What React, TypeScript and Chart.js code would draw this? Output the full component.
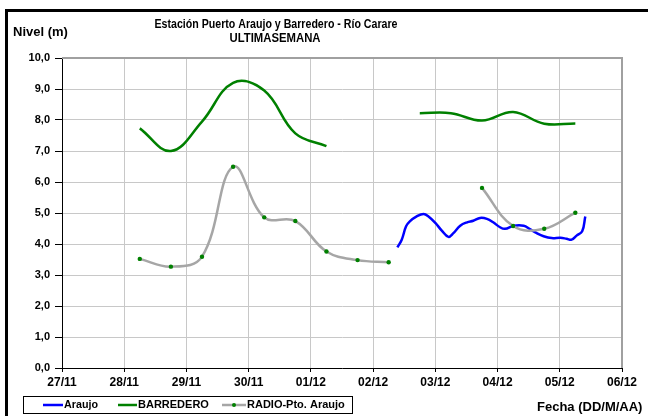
import React, { useEffect, useRef } from "react";
import { Chart, registerables } from "chart.js";

Chart.register(...registerables);

const titleLines = ["Estación Puerto Araujo y Barredero - Río Carare", "ULTIMASEMANA"];
const yAxisTitle = "Nivel (m)";
const xAxisTitle = "Fecha (DD/M/AA)";
const dateLabels = ["27/11", "28/11", "29/11", "30/11", "01/12", "02/12", "03/12", "04/12", "05/12", "06/12"];

// days since 27/11
const halfDays = [1.25, 1.75, 2.25, 2.75, 3.25, 3.75, 4.25, 4.75, 5.25, 5.75, 6.25, 6.75, 7.25, 7.75, 8.25];
const barrederoLevels = [7.73, 7.0, 7.95, 9.2, 8.95, 7.57, 7.16, null, null, 8.22, 8.22, 7.98, 8.26, 7.88, 7.89];
const radioLevels = [3.52, 3.27, 3.59, 6.49, 4.86, 4.74, 3.76, 3.48, 3.41, null, null, 5.81, 4.58, 4.49, 5.01];

const araujoDays = [5.39, 5.46, 5.53, 5.59, 5.70, 5.81, 5.89, 6.0, 6.10, 6.21, 6.29, 6.40, 6.51, 6.61, 6.72, 6.83, 6.93, 7.04, 7.12, 7.26, 7.42, 7.52, 7.63, 7.74, 7.87, 8.01, 8.11, 8.19, 8.27, 8.36, 8.41];
const araujoLevels = [3.89, 4.14, 4.57, 4.73, 4.89, 4.97, 4.89, 4.68, 4.44, 4.23, 4.35, 4.59, 4.70, 4.75, 4.84, 4.81, 4.70, 4.54, 4.49, 4.59, 4.59, 4.48, 4.35, 4.25, 4.19, 4.20, 4.17, 4.14, 4.27, 4.41, 4.89];

const legendNames = ["Araujo", "BARREDERO", "RADIO-Pto. Araujo"];

const FONT = '"Liberation Sans", Arial, sans-serif';
const BLUE = "#0000ff";
const GREEN = "#008000";
const GRAY = "#a6a6a6";

const pts = (xs: number[], ys: (number | null)[]) => xs.map((x, i) => ({ x, y: ys[i] }));

const decorPlugin = {
  id: "decor",
  beforeDraw(chart: any) {
    const ctx = chart.ctx;
    ctx.save();
    ctx.fillStyle = "#ffffff";
    ctx.fillRect(0, 0, chart.width, chart.height);
    ctx.restore();
  },
  afterDraw(chart: any) {
    const ctx = chart.ctx;
    const a = chart.chartArea;
    ctx.save();
    // plot border top/right gray
    ctx.strokeStyle = "#a0a0a0";
    ctx.lineWidth = 2;
    ctx.beginPath();
    ctx.moveTo(a.left, a.top);
    ctx.lineTo(a.right, a.top);
    ctx.lineTo(a.right, a.bottom);
    ctx.stroke();
    // frame (top and left thick black)
    ctx.fillStyle = "#000";
    ctx.fillRect(5, 9, chart.width - 5, 3);
    ctx.fillRect(5, 9, 3, chart.height - 9);

    ctx.fillStyle = "#000";
    ctx.textBaseline = "middle";
    ctx.font = `bold 12px ${FONT}`;
    ctx.textAlign = "center";
    ctx.fillText(titleLines[0], 276, 25, 243);
    ctx.fillText(titleLines[1], 275, 39, 91);
    ctx.textAlign = "left";
    ctx.font = `bold 13px ${FONT}`;
    ctx.fillText(yAxisTitle, 13, 32, 57);
    ctx.fillText(xAxisTitle, 537, 407, 108);

    // legend
    ctx.strokeStyle = "#000";
    ctx.lineWidth = 1;
    ctx.strokeRect(23.5, 396.5, 329, 17);
    const ly = 405;
    const items = [
      { x0: 43, x1: 63, tx: 64, color: BLUE, dot: false, w: 34 },
      { x0: 118, x1: 137, tx: 138, color: GREEN, dot: false, w: 72 },
      { x0: 222, x1: 246, tx: 247, color: GRAY, dot: true, w: 100 },
    ];
    items.forEach((it, i) => {
      ctx.strokeStyle = it.color;
      ctx.lineWidth = 2.5;
      ctx.beginPath();
      ctx.moveTo(it.x0, ly);
      ctx.lineTo(it.x1, ly);
      ctx.stroke();
      if (it.dot) {
        ctx.fillStyle = GREEN;
        ctx.beginPath();
        ctx.arc((it.x0 + it.x1) / 2, ly, 2, 0, Math.PI * 2);
        ctx.fill();
      }
      ctx.fillStyle = "#000";
      ctx.font = `bold 11px ${FONT}`;
      ctx.textAlign = "left";
      ctx.fillText(legendNames[i], it.tx, ly, it.w);
    });
    ctx.restore();
  },
};

export default function App() {
  const ref = useRef<HTMLCanvasElement | null>(null);
  useEffect(() => {
    if (!ref.current) return;
    const chart = new Chart(ref.current, {
      type: "line",
      data: {
        datasets: [
          {
            label: legendNames[0],
            data: pts(araujoDays, araujoLevels),
            borderColor: BLUE,
            borderWidth: 2.5,
            pointRadius: 0,
            tension: 0.4,
            spanGaps: false,
            order: 1,
          },
          {
            label: legendNames[1],
            data: pts(halfDays, barrederoLevels),
            borderColor: GREEN,
            borderWidth: 2.5,
            pointRadius: 0,
            tension: 0.4,
            spanGaps: false,
            order: 2,
          },
          {
            label: legendNames[2],
            data: pts(halfDays, radioLevels),
            borderColor: GRAY,
            borderWidth: 2.5,
            pointRadius: 2.2,
            pointBackgroundColor: GREEN,
            pointBorderColor: GREEN,
            pointBorderWidth: 0,
            tension: 0.4,
            spanGaps: false,
            order: 0,
          },
        ],
      },
      options: {
        animation: false,
        responsive: false,
        devicePixelRatio: 1,
        layout: { padding: { top: 58, right: 26, left: 0, bottom: 0 } },
        plugins: { legend: { display: false }, tooltip: { enabled: false }, title: { display: false } },
        scales: {
          x: {
            type: "linear",
            min: 0,
            max: 9,
            afterFit: (s: any) => {
              s.height = 48;
            },
            ticks: {
              stepSize: 1,
              autoSkip: false,
              maxRotation: 0,
              padding: 3,
              color: "#000",
              font: { family: FONT, size: 12, weight: "bold" },
              callback: (v: any) => dateLabels[Math.round(v)] ?? "",
            },
            grid: { color: "#c8c8c8", lineWidth: 1, tickLength: 4, tickColor: "#000" },
            border: { color: "#000", width: 1 },
          },
          y: {
            min: 0,
            max: 10,
            afterFit: (s: any) => {
              s.width = 62;
            },
            ticks: {
              stepSize: 1,
              padding: 5,
              color: "#000",
              font: { family: FONT, size: 11, weight: "bold" },
              callback: (v: any) => Number(v).toFixed(1).replace(".", ","),
            },
            grid: { color: "#c8c8c8", lineWidth: 1, tickLength: 7, tickColor: "#000" },
            border: { color: "#000", width: 1 },
          },
        },
      },
      plugins: [decorPlugin],
    } as any);
    return () => chart.destroy();
  }, []);
  return (
    <div style={{ position: "absolute", left: 0, top: 0, width: 648, height: 416 }}>
      <canvas ref={ref} width={648} height={416} style={{ width: 648, height: 416, display: "block" }} />
    </div>
  );
}
